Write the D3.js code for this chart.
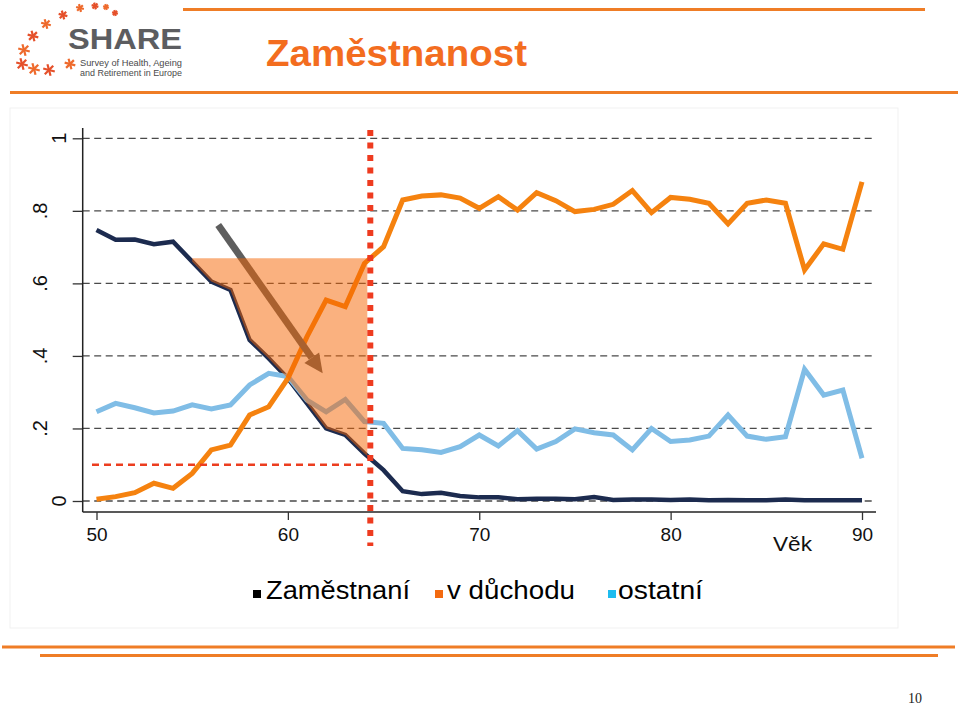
<!DOCTYPE html>
<html>
<head>
<meta charset="utf-8">
<script src="https://cdn.jsdelivr.net/npm/d3@7/dist/d3.min.js"></script>
<style>
  html, body { margin: 0; padding: 0; background: #ffffff; }
  svg { display: block; }
  text { font-family: "Liberation Sans", Arial, sans-serif; }
</style>
</head>
<body>
<svg id="chart" width="960" height="705"></svg>
<script>
// ---------- data ----------
const ages = d3.range(50, 91);
const employed = [0.747,0.720,0.721,0.708,0.715,0.660,0.605,0.582,0.444,0.393,
                  0.338,0.269,0.200,0.182,0.131,0.085,0.027,0.019,0.023,0.014,
                  0.010,0.010,0.005,0.006,0.006,0.005,0.011,0.003,0.004,0.004,
                  0.003,0.004,0.002,0.003,0.002,0.002,0.004,0.002,0.002,0.002,0.002];
const retired  = [0.005,0.012,0.023,0.049,0.035,0.076,0.141,0.154,0.237,0.260,
                  0.338,0.453,0.554,0.536,0.655,0.701,0.830,0.841,0.844,0.835,
                  0.807,0.839,0.802,0.850,0.828,0.798,0.804,0.818,0.856,0.795,
                  0.837,0.832,0.821,0.764,0.821,0.830,0.821,0.637,0.709,0.694,0.880];
const other    = [0.246,0.269,0.257,0.243,0.248,0.265,0.254,0.265,0.320,0.352,
                  0.343,0.278,0.246,0.280,0.219,0.214,0.145,0.141,0.134,0.150,
                  0.182,0.152,0.194,0.143,0.164,0.199,0.188,0.182,0.141,0.200,
                  0.164,0.168,0.179,0.237,0.179,0.170,0.177,0.363,0.292,0.306,0.118];
const xTicks = [50, 60, 70, 80, 90];
const yTicks = [0, 0.2, 0.4, 0.6, 0.8, 1];
const yTickLabels = ["0", ".2", ".4", ".6", ".8", "1"];
const seriesNames = ["Zaměstnaní", "v důchodu", "ostatní"];
const xTitle = "Věk";
const title = "Zaměstnanost";
// annotations
const retirementAge = 64.15;
const thresholdValue = 0.1;
const shadeTop = 0.669;
const shadeFrom = 55;
const arrowFrom = [56.36, 0.761];
const arrowTo = [61.82, 0.352];

// ---------- setup ----------
const svg = d3.select("#chart");
const x = d3.scaleLinear().domain([50, 90]).range([96.5, 862]);
const y = d3.scaleLinear().domain([0, 1]).range([501, 138.3]);
const ORANGE_RULE = "#ef7d26";

// slide decorations
svg.append("line").attr("x1", 183).attr("x2", 925).attr("y1", 9.5).attr("y2", 9.5)
  .attr("stroke", ORANGE_RULE).attr("stroke-width", 3);
svg.append("line").attr("x1", 10).attr("x2", 958).attr("y1", 92.5).attr("y2", 92.5)
  .attr("stroke", ORANGE_RULE).attr("stroke-width", 3);
svg.append("line").attr("x1", 2).attr("x2", 955).attr("y1", 647).attr("y2", 647)
  .attr("stroke", ORANGE_RULE).attr("stroke-width", 3);
svg.append("line").attr("x1", 40).attr("x2", 938).attr("y1", 655.5).attr("y2", 655.5)
  .attr("stroke", ORANGE_RULE).attr("stroke-width", 3);

svg.append("text").attr("x", 266).attr("y", 66).text(title)
  .attr("font-size", 37).attr("font-weight", "bold").attr("fill", "#f36d1f")
  .attr("textLength", 261).attr("lengthAdjust", "spacingAndGlyphs");

svg.append("text").attr("x", 922).attr("y", 703).text("10")
  .attr("text-anchor", "end").attr("font-size", 14)
  .attr("style", "font-family:'Liberation Serif','DejaVu Serif',serif").attr("fill", "#222");

// logo
const logo = svg.append("g");
const stars = [[115,13,3],[106,7,3],[95,6,3.5],[80,8,4],[63,15,4.5],[46,24,5],
               [33,36,5.5],[24,50,6],[22,64,6],[34,69,6],[49,70,6],[70,64,5.5]];
stars.forEach(([cx, cy, r], i) => {
  const g = logo.append("g").attr("transform", `translate(${cx},${cy}) rotate(15)`);
  for (let k = 0; k < 3; k++) {
    const a = k * Math.PI / 3;
    g.append("line")
      .attr("x1", -r * Math.cos(a)).attr("y1", -r * Math.sin(a))
      .attr("x2", r * Math.cos(a)).attr("y2", r * Math.sin(a))
      .attr("stroke", i % 2 ? "#ee6a2c" : "#e5502a").attr("stroke-width", 2.2);
  }
});
logo.append("text").attr("x", 68).attr("y", 49).text("SHARE")
  .attr("font-size", 30).attr("font-weight", "bold").attr("fill", "#5c5d60")
  .attr("textLength", 114).attr("lengthAdjust", "spacingAndGlyphs");
logo.append("text").attr("x", 80).attr("y", 66).text("Survey of Health, Ageing")
  .attr("font-size", 9.5).attr("fill", "#4a4a4a")
  .attr("textLength", 102).attr("lengthAdjust", "spacingAndGlyphs");
logo.append("text").attr("x", 80).attr("y", 76).text("and Retirement in Europe")
  .attr("font-size", 9.5).attr("fill", "#4a4a4a")
  .attr("textLength", 102).attr("lengthAdjust", "spacingAndGlyphs");

// faint graph frame
svg.append("rect").attr("x", 10).attr("y", 108).attr("width", 888).attr("height", 520)
  .attr("fill", "none").attr("stroke", "#f1f1f1").attr("stroke-width", 1);

// ---------- grid & axes ----------
const plotRight = 876, axisLeftX = 82.7, axisBottomY = 512;
svg.append("g").selectAll("line").data(yTicks).join("line")
  .attr("x1", axisLeftX).attr("x2", plotRight)
  .attr("y1", d => y(d)).attr("y2", d => y(d))
  .attr("stroke", "#4a4a4a").attr("stroke-width", 1.3).attr("stroke-dasharray", "7,4.5");

const yAxis = d3.axisLeft(y).tickValues(yTicks).tickSize(10).tickFormat("");
svg.append("g").attr("transform", `translate(${axisLeftX},0)`).call(yAxis)
  .call(g => g.select(".domain").remove())
  .call(g => g.selectAll(".tick line").attr("stroke", "#333").attr("stroke-width", 1.3));
svg.append("g").selectAll("text").data(yTicks).join("text")
  .attr("transform", (d, i) => {
    const bx = (yTickLabels[i] === "1" || yTickLabels[i] === "0") ? 66 : 47;
    return `translate(${bx},${y(d)}) rotate(-90)`;
  })
  .attr("text-anchor", "middle").attr("font-size", 20).attr("fill", "#111")
  .text((d, i) => yTickLabels[i]);

svg.append("line").attr("x1", axisLeftX).attr("x2", axisLeftX).attr("y1", 128).attr("y2", axisBottomY)
  .attr("stroke", "#222").attr("stroke-width", 1.5);
svg.append("line").attr("x1", axisLeftX).attr("x2", plotRight).attr("y1", axisBottomY).attr("y2", axisBottomY)
  .attr("stroke", "#222").attr("stroke-width", 1.5);

const xAxis = d3.axisBottom(x).tickValues(xTicks).tickSize(8).tickPadding(8);
svg.append("g").attr("transform", `translate(0,${axisBottomY})`).call(xAxis)
  .call(g => g.select(".domain").remove())
  .call(g => g.selectAll(".tick line").attr("stroke", "#333").attr("stroke-width", 1.3))
  .call(g => g.selectAll(".tick text").attr("font-size", 19).attr("fill", "#111")
    .attr("font-family", "'Liberation Sans', Arial, sans-serif").attr("dy", "0.71em"));

svg.append("text").attr("x", 773).attr("y", 551).text(xTitle)
  .attr("font-size", 21).attr("fill", "#111")
  .attr("textLength", 39).attr("lengthAdjust", "spacingAndGlyphs");

// ---------- lines ----------
const line = d3.line().x((d, i) => x(ages[i])).y(d => y(d));
const series = [
  { v: employed, c: "#1c2b4f", w: 4.5 },
  { v: other,    c: "#80bde6", w: 5 },
  { v: retired,  c: "#f5820f", w: 5 }
];
svg.append("g").selectAll("path").data(series).join("path")
  .attr("d", d => line(d.v)).attr("fill", "none")
  .attr("stroke", d => d.c).attr("stroke-width", d => d.w)
  .attr("stroke-linejoin", "miter").attr("stroke-linecap", "butt");

// ---------- annotations ----------
// arrow
const ax0 = x(arrowFrom[0]), ay0 = y(arrowFrom[1]);
const ax1 = x(arrowTo[0]), ay1 = y(arrowTo[1]);
const ang = Math.atan2(ay1 - ay0, ax1 - ax0);
const headLen = 19, headW = 9;
const bx = ax1 - headLen * Math.cos(ang), by = ay1 - headLen * Math.sin(ang);
svg.append("line").attr("x1", ax0).attr("y1", ay0).attr("x2", bx).attr("y2", by)
  .attr("stroke", "#5e5e5e").attr("stroke-width", 7);
svg.append("path").attr("d", d3.line()([
  [ax1, ay1],
  [bx + headW * Math.sin(ang), by - headW * Math.cos(ang)],
  [bx - headW * Math.sin(ang), by + headW * Math.cos(ang)]
])).attr("fill", "#5e5e5e");

// shaded area between employment curve and top level
const empAt = a => {
  const i = Math.floor(a) - 50, t = a - Math.floor(a);
  return employed[i] + (employed[i + 1] - employed[i]) * t;
};
const poly = [[shadeFrom, shadeTop], [retirementAge, shadeTop], [retirementAge, empAt(retirementAge)]];
for (let a = Math.floor(retirementAge); a >= shadeFrom; a--) poly.push([a, employed[a - 50]]);
svg.append("path")
  .attr("d", d3.line().x(d => x(d[0])).y(d => y(d[1]))(poly) + "Z")
  .attr("fill", "#f56300").attr("fill-opacity", 0.5);

// threshold dashed line
svg.append("line").attr("x1", 92).attr("x2", x(retirementAge) - 3)
  .attr("y1", y(thresholdValue)).attr("y2", y(thresholdValue))
  .attr("stroke", "#ec3d1f").attr("stroke-width", 2.5).attr("stroke-dasharray", "7,5");
// retirement age dotted line
svg.append("line").attr("x1", x(retirementAge) + 3).attr("x2", x(retirementAge) + 3)
  .attr("y1", 130).attr("y2", 546)
  .attr("stroke", "#ee3b1f").attr("stroke-width", 6).attr("stroke-dasharray", "6,6.5");

// ---------- legend ----------
const legendItems = [
  { name: seriesNames[0], sq: "#000000", sx: 253, tx: 266, tl: 144 },
  { name: seriesNames[1], sq: "#f36a10", sx: 435, tx: 447, tl: 128 },
  { name: seriesNames[2], sq: "#1ebcef", sx: 608, tx: 618, tl: 85 }
];
const lg = svg.append("g").selectAll("g").data(legendItems).join("g");
lg.append("rect").attr("x", d => d.sx).attr("y", 590).attr("width", 8).attr("height", 8)
  .attr("fill", d => d.sq);
lg.append("text").attr("x", d => d.tx).attr("y", 599).text(d => d.name)
  .attr("font-size", 26).attr("fill", "#000")
  .attr("textLength", d => d.tl).attr("lengthAdjust", "spacingAndGlyphs");
</script>
</body>
</html>
